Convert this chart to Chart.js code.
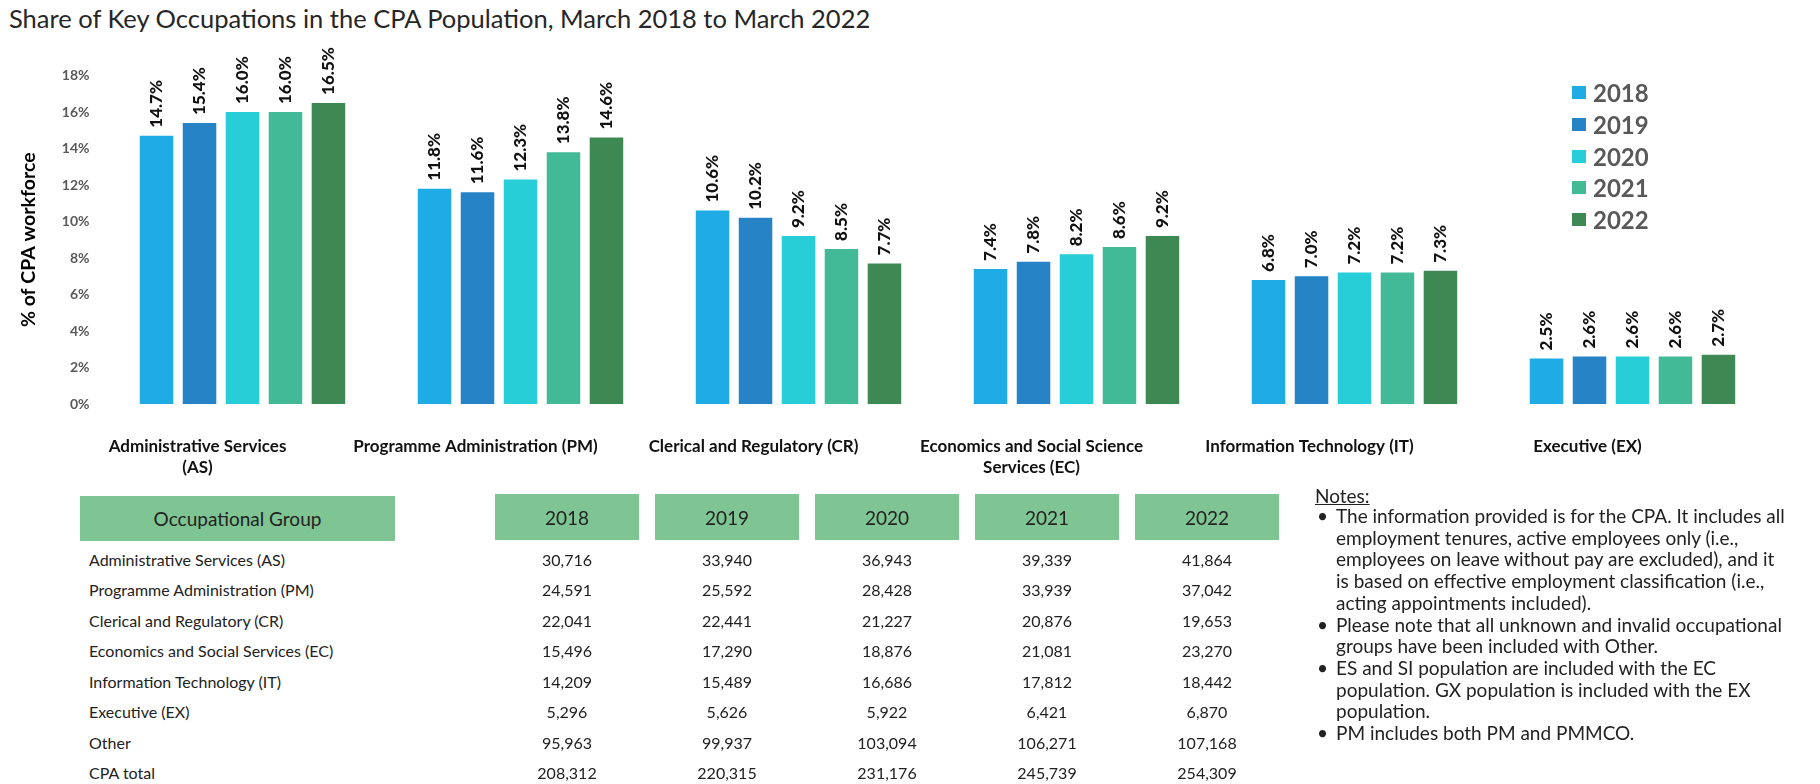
<!DOCTYPE html>
<html>
<head>
<meta charset="utf-8">
<script src="https://cdn.jsdelivr.net/npm/chart.js@4.4.1/dist/chart.umd.min.js"></script>
<style>
  body { margin: 0; width: 1820px; height: 784px; background: #fff; position: relative; overflow: hidden; font-family: Lato, sans-serif; }
  #title { position: absolute; left: 9px; top: 3px; font-size: 25.5px; color: #262626; white-space: nowrap; }
  #chart { position: absolute; left: 0; top: 0; }
  #legend { position: absolute; left: 1572px; top: 77px; }
  .lg-item { height: 31.7px; display: flex; align-items: center; font: bold 24px Lato, sans-serif; color: #595959; }
  .lg-box { width: 14px; height: 13px; margin-right: 7px; }
  .th { position: absolute; background: #7fc493; color: #222; font-size: 19px; display: flex; align-items: center; justify-content: center; }
  .cell { position: absolute; font-family: Lato, sans-serif; font-size: 16px; color: #222; line-height: 20px; white-space: nowrap; }
  .num { text-align: center; width: 144px; }
  #notes { position: absolute; left: 1312px; top: 486px; font-size: 19px; color: #222; white-space: nowrap; }
  #notes .head { text-decoration: underline; line-height: 19px; margin-left: 3px; }
  #notes .item { position: relative; padding-left: 24px; line-height: 21.7px; }
  #notes .item::before { content: '\2022'; position: absolute; left: 5px; top: 0; }
</style>
</head>
<body>
<div id="title">Share of Key Occupations in the CPA Population, March 2018 to March 2022</div>
<canvas id="chart" width="1820" height="500"></canvas>
<div id="legend"></div>
<div id="table"></div>
<div id="notes">
  <div class="head">Notes:</div>
  <div class="item">The information provided is for the CPA. It includes all<br>employment tenures, active employees only (i.e.,<br>employees on leave without pay are excluded), and it<br>is based on effective employment classification (i.e.,<br>acting appointments included).</div>
  <div class="item">Please note that all unknown and invalid occupational<br>groups have been included with Other.</div>
  <div class="item">ES and SI population are included with the EC<br>population. GX population is included with the EX<br>population.</div>
  <div class="item">PM includes both PM and PMMCO.</div>
</div>
<script>
document.addEventListener('DOMContentLoaded', function () {
    // Categorias del grafico
    var categories = [
        ['Administrative Services', '(AS)'],
        'Programme Administration (PM)',
        'Clerical and Regulatory (CR)',
        ['Economics and Social Science', 'Services (EC)'],
        'Information Technology (IT)',
        'Executive (EX)'
    ];
    var years = ['2018', '2019', '2020', '2021', '2022'];
    var colors = ['#1fabe3', '#2683c6', '#27ced7', '#43ba97', '#3e8853'];

    // % of CPA workforce
    var share2018 = [14.7, 11.8, 10.6, 7.4, 6.8, 2.5];
    var share2019 = [15.4, 11.6, 10.2, 7.8, 7.0, 2.6];
    var share2020 = [16.0, 12.3, 9.2, 8.2, 7.2, 2.6];
    var share2021 = [16.0, 13.8, 8.5, 8.6, 7.2, 2.6];
    var share2022 = [16.5, 14.6, 7.7, 9.2, 7.3, 2.7];
    var shares = [share2018, share2019, share2020, share2021, share2022];

    // Tabla de efectivos
    var groups = ['Administrative Services (AS)', 'Programme Administration (PM)', 'Clerical and Regulatory (CR)',
        'Economics and Social Services (EC)', 'Information Technology (IT)', 'Executive (EX)', 'Other', 'CPA total'];
    var count2018 = [30716, 24591, 22041, 15496, 14209, 5296, 95963, 208312];
    var count2019 = [33940, 25592, 22441, 17290, 15489, 5626, 99937, 220315];
    var count2020 = [36943, 28428, 21227, 18876, 16686, 5922, 103094, 231176];
    var count2021 = [39339, 33939, 20876, 21081, 17812, 6421, 106271, 245739];
    var count2022 = [41864, 37042, 19653, 23270, 18442, 6870, 107168, 254309];
    var counts = [count2018, count2019, count2020, count2021, count2022];

    // Etiquetas verticales sobre cada barra
    var barLabels = {
        id: 'barLabels',
        afterDatasetsDraw: function (chart) {
            var ctx = chart.ctx;
            ctx.save();
            ctx.font = '900 17px Lato, sans-serif';
            ctx.fillStyle = '#111';
            ctx.textAlign = 'left';
            ctx.textBaseline = 'middle';
            chart.data.datasets.forEach(function (ds, di) {
                chart.getDatasetMeta(di).data.forEach(function (bar, i) {
                    ctx.save();
                    ctx.translate(bar.x, bar.y - 8);
                    ctx.rotate(-Math.PI / 2);
                    ctx.fillText(ds.data[i].toFixed(1) + '%', 0, 0);
                    ctx.restore();
                });
            });
            ctx.restore();
        }
    };

    var chart = new Chart(document.getElementById('chart'), {
        type: 'bar',
        data: {
            labels: categories,
            datasets: years.map(function (y, i) {
                return { label: y, data: shares[i], backgroundColor: colors[i] };
            })
        },
        options: {
            responsive: false,
            animation: false,
            devicePixelRatio: 1,
            categoryPercentage: 0.773,
            barPercentage: 0.78,
            layout: { padding: { top: 75.5, right: 48.5, left: 0, bottom: 0 } },
            plugins: { legend: { display: false }, tooltip: { enabled: false } },
            scales: {
                x: {
                    grid: { display: false, drawTicks: false },
                    border: { display: false },
                    ticks: {
                        maxRotation: 0,
                        autoSkip: false,
                        padding: 32,
                        labelOffset: -45,
                        color: '#111',
                        font: { family: 'Lato', weight: 'bold', size: 17, lineHeight: 1.25 }
                    },
                    afterFit: function (scale) { scale.height = 96; }
                },
                y: {
                    min: 0,
                    max: 18,
                    grid: { display: false, drawTicks: false },
                    border: { display: false },
                    ticks: {
                        stepSize: 2,
                        padding: 14,
                        color: '#595959',
                        font: { family: 'Lato', weight: 'bold', size: 14 },
                        callback: function (v) { return v + '%'; }
                    },
                    title: {
                        display: true,
                        text: '% of CPA workforce',
                        color: '#000',
                        font: { family: 'Lato', weight: 'bold', size: 19.5 },
                        padding: { top: 17, bottom: 0 }
                    },
                    afterFit: function (scale) { scale.width = 103.5; }
                }
            }
        },
        plugins: [barLabels]
    });

    // Leyenda
    var legend = document.getElementById('legend');
    chart.data.datasets.forEach(function (ds) {
        var item = document.createElement('div');
        item.className = 'lg-item';
        item.innerHTML = '<span class="lg-box" style="background:' + ds.backgroundColor + '"></span>' + ds.label;
        legend.appendChild(item);
    });

    // Tabla
    var table = document.getElementById('table');
    var head = document.createElement('div');
    head.className = 'th';
    head.style.cssText = 'left:80px;top:496px;width:315px;height:45px;';
    head.textContent = 'Occupational Group';
    table.appendChild(head);

    years.forEach(function (y, c) {
        var th = document.createElement('div');
        th.className = 'th';
        th.style.cssText = 'left:' + (495 + c * 160) + 'px;top:494px;width:144px;height:46px;';
        th.textContent = y;
        table.appendChild(th);
    });

    groups.forEach(function (g, r) {
        var top = 550 + r * 30.45;
        var lab = document.createElement('div');
        lab.className = 'cell';
        lab.style.cssText = 'left:89px;top:' + top + 'px;';
        lab.textContent = g;
        table.appendChild(lab);
        counts.forEach(function (col, c) {
            var cell = document.createElement('div');
            cell.className = 'cell num';
            cell.style.cssText = 'left:' + (495 + c * 160) + 'px;top:' + top + 'px;';
            cell.textContent = col[r].toLocaleString('en-US');
            table.appendChild(cell);
        });
    });
});
</script>
</body>
</html>
